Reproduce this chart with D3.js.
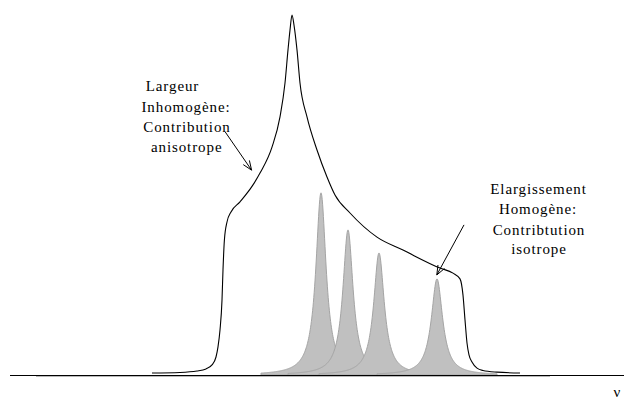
<!DOCTYPE html>
<html><head><meta charset="utf-8">
<script src="https://cdn.jsdelivr.net/npm/d3@7"></script>
<style>
html,body{margin:0;padding:0;background:#fff;}
svg{display:block;}
text{font-family:"Liberation Serif","DejaVu Serif","Times New Roman",serif;font-size:15px;fill:#000;letter-spacing:0.9px;}
</style></head>
<body>
<script>
// Inhomogeneous envelope (anisotropic contribution): frequency, intensity
const envX = [28,35,39.25,41.5,43,44,44.5,45,45.5,45.75,46.1,46.75,47.75,50,53.25,55,58,60,61.25,62,62.5,63,63.5,64.25,65,66.75,69.25,71.75,73.75,77.5,84.25,90.75,100,103.25,105,105.75,106.25,106.75,107.25,108,109.25,110.75,114.25,120];
const envY = [0.55,0.7,1.1,1.7,2.8,5,7.8,12.5,20.8,29.2,37.5,42.5,45.3,48.1,52.8,56.1,63.3,71.7,81.1,90.3,95.8,100,97.2,90.3,81.1,71.7,62.5,55,50,45,38.3,34.7,29.7,28.3,26.7,22.2,15.3,8.9,5.6,3.6,1.9,1.25,0.8,0.55];
// Homogeneous (isotropic) lines: centre, height, half-width
const peakCenter = [70.25,77,84.75,99.25];
const peakHeight = [50.6,40.3,33.9,26.7];
const peakHalfWidth = [1.55,1.55,1.6,1.7];
const peakSpan = 15;
const axisLabel = "ν";
const label1 = ["Largeur","Inhomogène:","Contribution","anisotrope"];
const label2 = ["Elargissement","Homogène:","Contribtution","isotrope"];
// arrows in data units [x0,y0,x1,y1]
const arrows = [[46.25,67.6,52.9,56.9],[106,41.7,99.2,27.8]];

const W=624,H=400;
const svg=d3.select("body").append("svg").attr("width",W).attr("height",H);
const x=d3.scaleLinear().domain([0,146]).range([40,624]);
const y=d3.scaleLinear().domain([0,100]).range([375,15]);

// faint baseline
svg.append("line").attr("x1",36).attr("x2",550).attr("y1",376.5).attr("y2",376.5)
  .attr("stroke","#b8b8b8").attr("stroke-width",1);

// Lorentzian peaks
const area=d3.area().x(d=>x(d[0])).y0(y(0)).y1(d=>y(d[1])).curve(d3.curveLinear);
peakCenter.forEach((c,i)=>{
  const pts=[];
  for(let v=c-peakSpan; v<=c+peakSpan+1e-9; v+=0.1){
    const t=(v-c)/peakHalfWidth[i];
    pts.push([v, peakHeight[i]/(1+t*t)]);
  }
  svg.append("path").attr("d",area(pts)).attr("fill","#c0c0c0")
    .attr("stroke","#a4a4a4").attr("stroke-width",1);
});

// axis line
svg.append("line").attr("x1",10).attr("x2",624).attr("y1",375.5).attr("y2",375.5)
  .attr("stroke","#000").attr("stroke-width",1);

// envelope
const env=envX.map((v,i)=>[v,envY[i]]);
const line=d3.line().x(d=>x(d[0])).y(d=>y(d[1])).curve(d3.curveMonotoneX);
svg.append("path").attr("d",line(env)).attr("fill","none").attr("stroke","#000").attr("stroke-width",1.1);

// arrows
arrows.forEach(a=>{
  const x0=x(a[0]),y0=y(a[1]),x1=x(a[2]),y1=y(a[3]);
  svg.append("line").attr("x1",x0).attr("y1",y0).attr("x2",x1).attr("y2",y1)
    .attr("stroke","#000").attr("stroke-width",1);
  const ang=Math.atan2(y1-y0,x1-x0), L=10, sp=0.38;
  const p1=[x1-L*Math.cos(ang-sp), y1-L*Math.sin(ang-sp)];
  const p2=[x1-L*Math.cos(ang+sp), y1-L*Math.sin(ang+sp)];
  svg.append("path").attr("d",`M${p1[0]},${p1[1]}L${x1},${y1}L${p2[0]},${p2[1]}`)
    .attr("fill","none").attr("stroke","#000").attr("stroke-width",1);
});

// labels
const l1x=[172.5,186,187,186.7], l1y=[91,111.5,132,151.5];
label1.forEach((t,i)=>svg.append("text").attr("x",l1x[i]).attr("y",l1y[i]).attr("text-anchor","middle").text(t));
const l2x=[538.5,538,539,539], l2y=[193.5,214.3,235,254];
label2.forEach((t,i)=>svg.append("text").attr("x",l2x[i]).attr("y",l2y[i]).attr("text-anchor","middle").text(t));

svg.append("text").attr("x",617).attr("y",397).attr("text-anchor","middle").style("letter-spacing","0px").text(axisLabel);
</script>
</body></html>
